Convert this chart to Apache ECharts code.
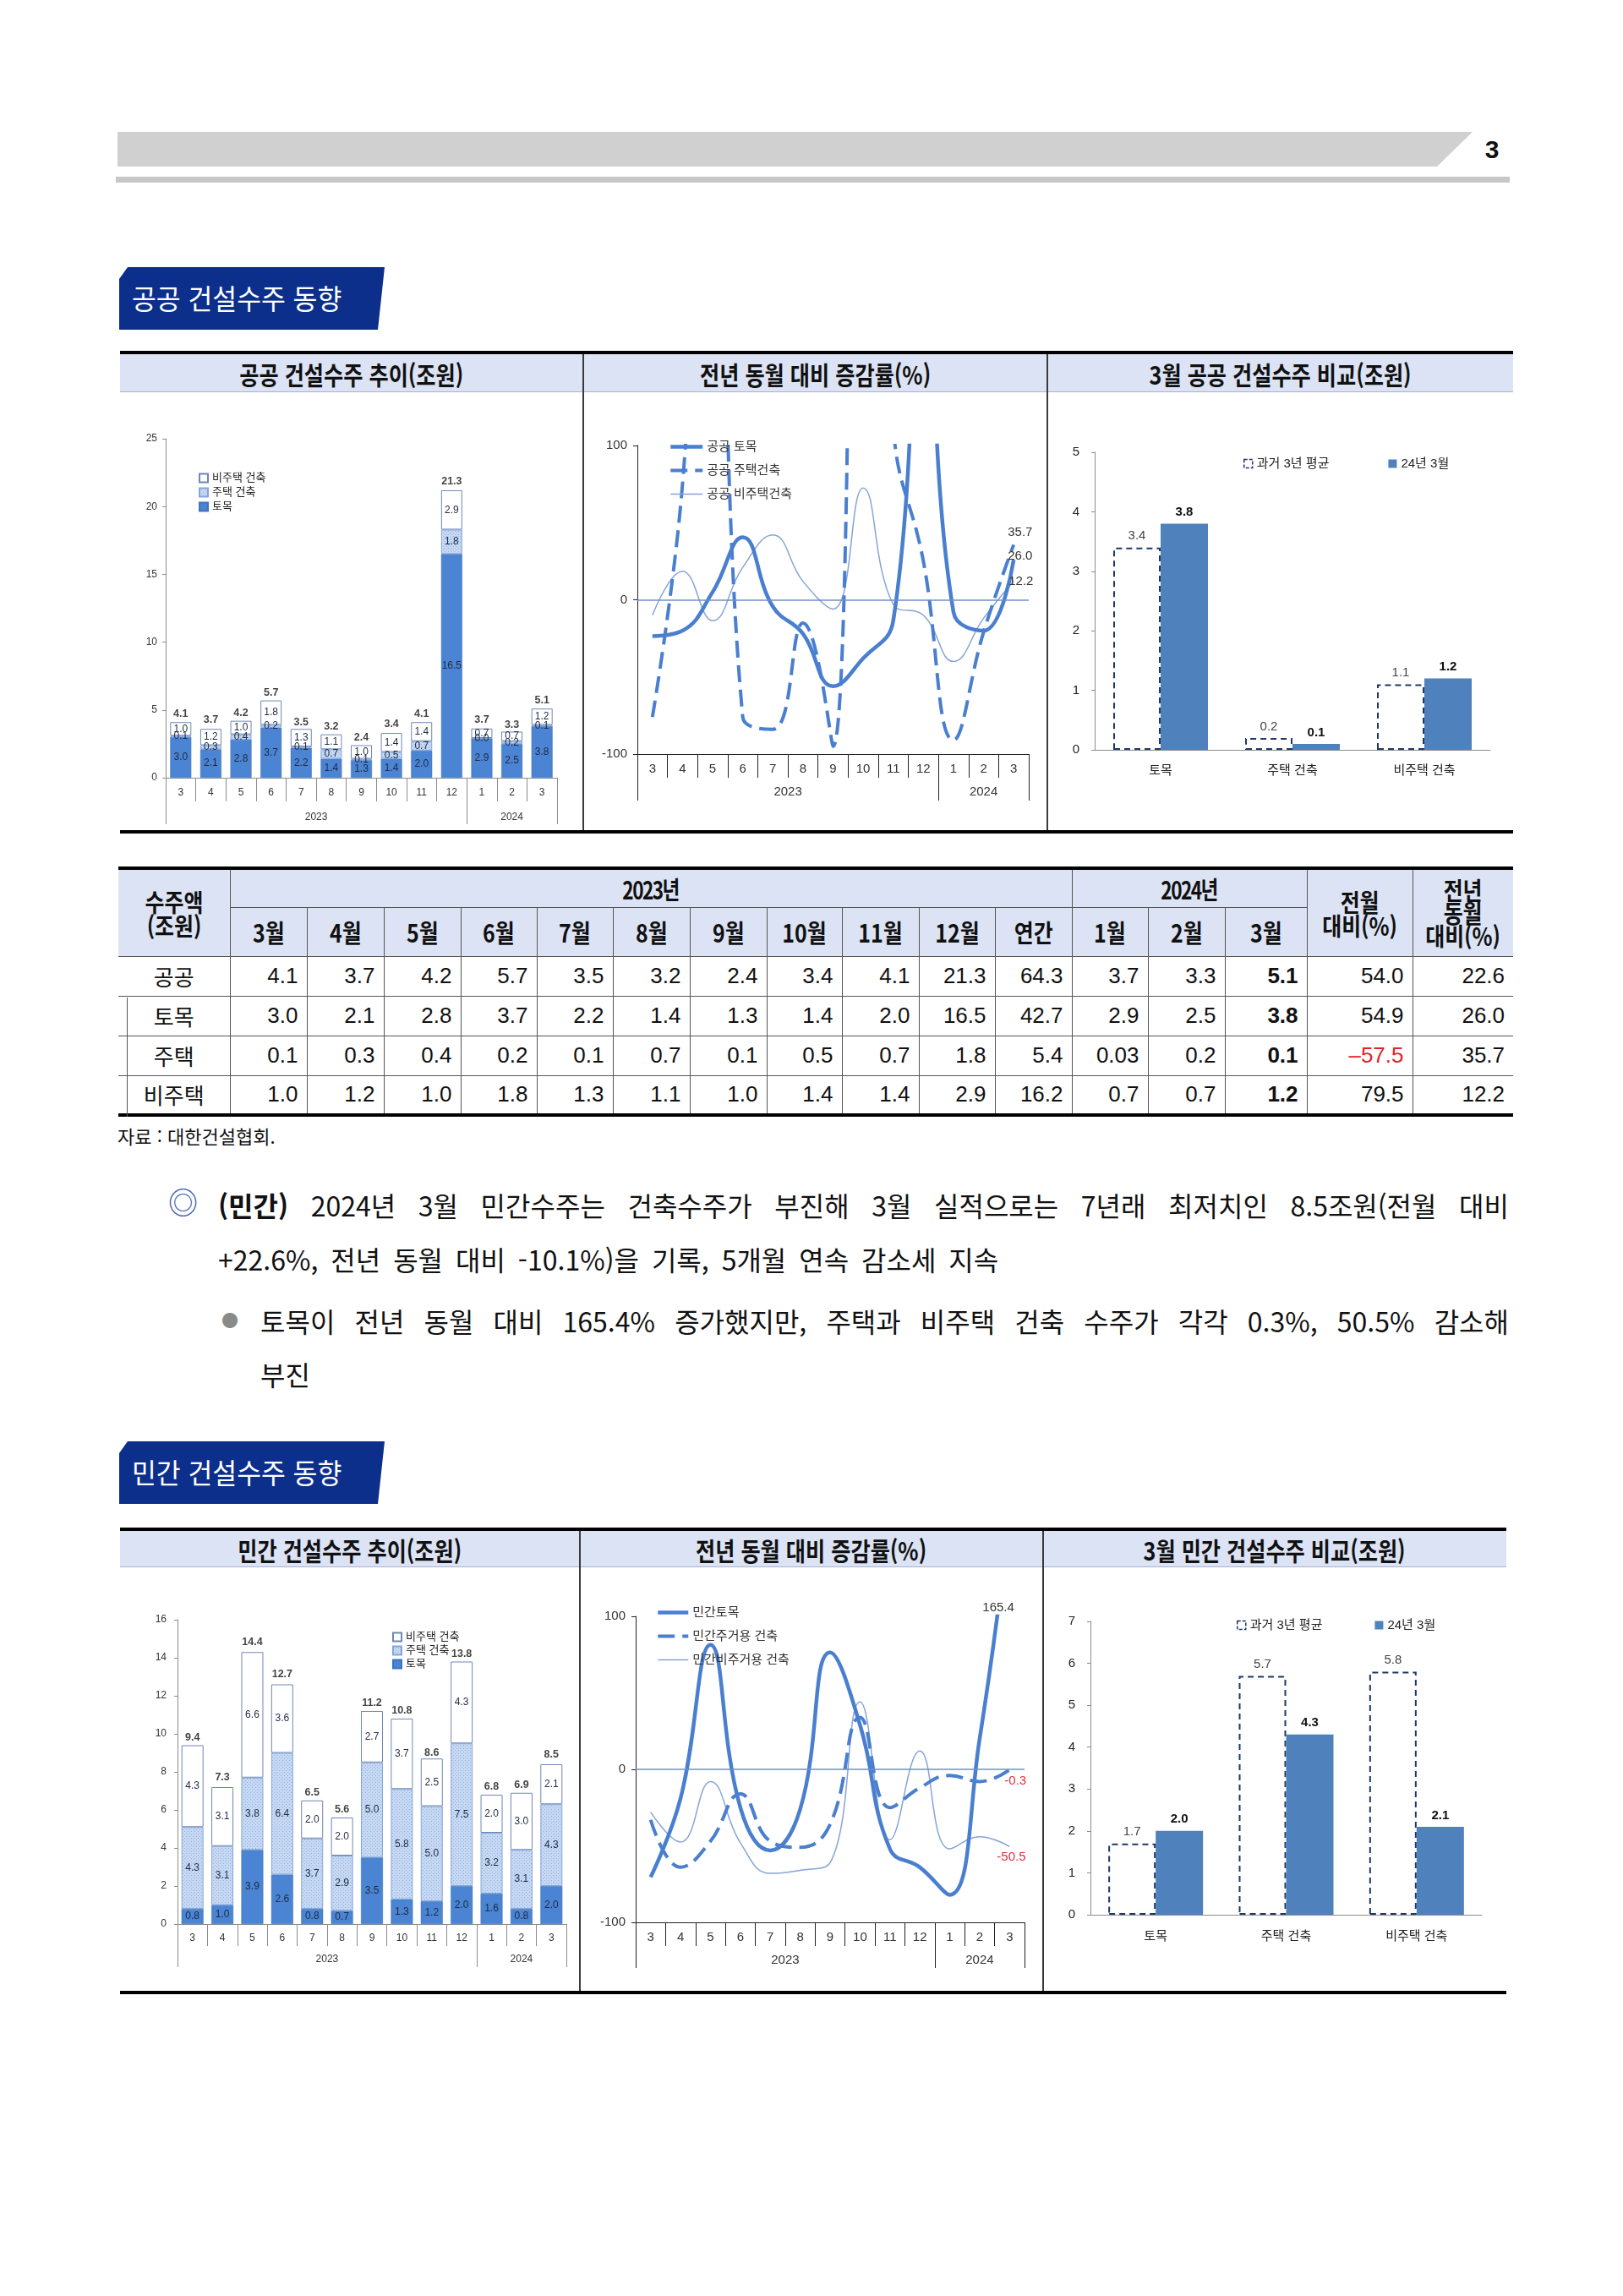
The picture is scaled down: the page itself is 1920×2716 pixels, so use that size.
<!DOCTYPE html>
<html lang="ko">
<head>
<meta charset="utf-8">
<title>공공·민간 건설수주 동향</title>
<script src="https://cdn.jsdelivr.net/npm/echarts@6.0.0/dist/echarts.min.js"></script>
<style>
  html, body { margin:0; padding:0; background:#fff; }
  body { position:relative; width:1920px; height:2716px; overflow:hidden;
         font-family:"Noto Sans CJK KR","Noto Sans",sans-serif; color:#111; }
  .abs { position:absolute; }
  .topbar { left:139px; top:156px; width:1603px; height:41px; background:#d0d0d0;
            clip-path:polygon(0 0,100% 0,calc(100% - 42px) 100%,0 100%); }
  .topline { left:137px; top:209px; width:1649px; height:7px; background:#c7c7c7; }
  .pageno { left:1748px; top:160px; width:34px; text-align:center; font-weight:bold; font-size:30px; line-height:34px;
            font-family:"Liberation Sans Narrow","Liberation Sans",sans-serif; color:#111; }
  .sect { left:141px; width:314px; height:74px; background:#0c2f8b; color:#fff;
          clip-path:polygon(10px 0,100% 0,calc(100% - 8px) 100%,0 100%,0 14px); }
  .sect span { position:absolute; left:15px; top:0; line-height:72px; font-size:33px; display:inline-block;
               transform:scaleX(0.95); transform-origin:left center; white-space:nowrap; }
  .ptop { height:4px; background:#000; }
  .phead { background:#dce3f4; border-bottom:1px solid #a9b3cf; box-sizing:border-box; }
  .ptitle { display:flex; align-items:center; justify-content:center; }
  .ptitle span { display:inline-block; font-size:30px; font-weight:bold; transform:scaleX(0.84); white-space:nowrap; }
  .vsep { width:2px; background:#3a3a3a; }
  .chart { position:absolute; }
  table.tb { position:absolute; left:140px; top:1025px; width:1650px; border-collapse:collapse; table-layout:fixed;
             border-top:4px solid #000; border-bottom:4px solid #000; }
  table.tb th, table.tb td { border:1px solid #555; padding:0; overflow:hidden; white-space:nowrap; }
  table.tb .c0 { border-left:none; }
  table.tb .cl { border-right:none; }
  table.tb th { background:#dce3f4; font-weight:bold; font-size:29px; line-height:28px; text-align:center; }
  table.tb th span { display:inline-block; transform:scaleX(0.86); }
  table.tb th span.yr { transform:scaleX(0.78); letter-spacing:-2px; }
  table.tb td { font-family:"Liberation Sans","Noto Sans CJK KR",sans-serif; font-size:26px; text-align:right; padding-right:10px; }
  table.tb td.rl { text-align:center; padding-right:0; font-family:"Noto Sans CJK KR",sans-serif; }
  table.tb td.bd { font-weight:bold; }
  table.tb td.neg { color:#e3222b; }
  .src { left:139px; top:1330px; font-size:22px; line-height:26px; color:#111; }
  .para { font-size:32px; line-height:40px; color:#111; word-spacing:6px; }
</style>
</head>
<body>

<!-- page header -->
<div class="abs topbar"></div>
<div class="abs topline"></div>
<div class="abs pageno">3</div>

<!-- section 1 -->
<div class="abs sect" style="top:316px;"><span>공공 건설수주 동향</span></div>

<div class="abs ptop" style="left:142px;top:415px;width:1648px;"></div>
<div class="abs phead" style="left:142px;top:419px;width:1648px;height:45px;"></div>
<div class="abs ptitle" style="left:142px;top:419px;width:548px;height:45px;"><span>공공 건설수주 추이(조원)</span></div>
<div class="abs ptitle" style="left:690px;top:419px;width:549px;height:45px;"><span>전년 동월 대비 증감률(%)</span></div>
<div class="abs ptitle" style="left:1239px;top:419px;width:551px;height:45px;"><span>3월 공공 건설수주 비교(조원)</span></div>
<div class="abs vsep" style="left:689px;top:419px;height:564px;"></div>
<div class="abs vsep" style="left:1238px;top:419px;height:564px;"></div>
<div class="abs ptop" style="left:142px;top:982px;width:1648px;"></div>

<div id="c1" class="chart" style="left:142px;top:464px;width:546px;height:518px;"></div>
<div id="c2" class="chart" style="left:691px;top:464px;width:547px;height:518px;"></div>
<div id="c3" class="chart" style="left:1240px;top:464px;width:550px;height:518px;"></div>

<!-- table -->
<table class="tb" id="tbl"></table>
<div class="abs" style="left:150px;top:1180px;width:1px;height:141px;background:#555;"></div>
<div class="abs src">자료 : 대한건설협회.</div>

<!-- paragraph -->
<div class="abs" style="left:199px;top:1401px;font-size:35px;line-height:40px;color:#3a5cab;">◎</div>
<div class="abs para" style="left:258px;top:1405px;width:1527px;text-align:justify;text-align-last:justify;"><b>(민간)</b> 2024년 3월 민간수주는 건축수주가 부진해 3월 실적으로는 7년래 최저치인 8.5조원(전월 대비</div>
<div class="abs para" style="left:258px;top:1469px;">+22.6%, 전년 동월 대비 -10.1%)을 기록, 5개월 연속 감소세 지속</div>
<div class="abs" style="left:262px;top:1542px;font-size:20px;line-height:40px;color:#8a8a8a;">●</div>
<div class="abs para" style="left:308px;top:1542px;width:1477px;text-align:justify;text-align-last:justify;">토목이 전년 동월 대비 165.4% 증가했지만, 주택과 비주택 건축 수주가 각각 0.3%, 50.5% 감소해</div>
<div class="abs para" style="left:308px;top:1605px;">부진</div>

<!-- section 2 -->
<div class="abs sect" style="top:1705px;"><span>민간 건설수주 동향</span></div>

<div class="abs ptop" style="left:142px;top:1807px;width:1640px;"></div>
<div class="abs phead" style="left:142px;top:1811px;width:1640px;height:43px;"></div>
<div class="abs ptitle" style="left:142px;top:1811px;width:544px;height:43px;"><span>민간 건설수주 추이(조원)</span></div>
<div class="abs ptitle" style="left:686px;top:1811px;width:548px;height:43px;"><span>전년 동월 대비 증감률(%)</span></div>
<div class="abs ptitle" style="left:1234px;top:1811px;width:548px;height:43px;"><span>3월 민간 건설수주 비교(조원)</span></div>
<div class="abs vsep" style="left:685px;top:1811px;height:545px;"></div>
<div class="abs vsep" style="left:1233px;top:1811px;height:545px;"></div>
<div class="abs ptop" style="left:142px;top:2355px;width:1640px;"></div>

<div id="c4" class="chart" style="left:142px;top:1854px;width:543px;height:501px;"></div>
<div id="c5" class="chart" style="left:687px;top:1854px;width:546px;height:501px;"></div>
<div id="c6" class="chart" style="left:1235px;top:1854px;width:547px;height:501px;"></div>

<script>
// ---------------- DATA ----------------
const months = ['3','4','5','6','7','8','9','10','11','12','1','2','3'];
const years = ['2023','2024'];
const yearSpans = [10, 3];

// 공공 건설수주 추이 (조원)
const pubCivil      = [3.0, 2.1, 2.8, 3.7, 2.2, 1.4, 1.3, 1.4, 2.0, 16.5, 2.9, 2.5, 3.8];
const pubHousing    = [0.1, 0.3, 0.4, 0.2, 0.1, 0.7, 0.1, 0.5, 0.7, 1.8, 0.03, 0.2, 0.1];
const pubNonHousing = [1.0, 1.2, 1.0, 1.8, 1.3, 1.1, 1.0, 1.4, 1.4, 2.9, 0.7, 0.7, 1.2];
const pubTotal      = [4.1, 3.7, 4.2, 5.7, 3.5, 3.2, 2.4, 3.4, 4.1, 21.3, 3.7, 3.3, 5.1];

// 공공 전년 동월 대비 증감률 (%)
const pubCivilYoY      = [-23.6, -20, 5, 40.5, -4.4, -22, -56, -38, -13.5, 215, -8, -20, 26.0];
const pubHousingYoY    = [-76, 75, 400, -76, -84, -15, -95, 900, 115, 25, -91, -21, 35.7];
const pubNonHousingYoY = [-10, 18.5, -13.5, 21, 42, 12, -6, 72.5, -3, -10, -40, -12, 12.2];

// 3월 공공 건설수주 비교 (조원)
const cmpCats = ['토목', '주택 건축', '비주택 건축'];
const pubPastAvg = [3.4, 0.2, 1.1];
const pubMar24   = [3.8, 0.1, 1.2];

// 민간 건설수주 추이 (조원)
const privCivil      = [0.8, 1.0, 3.9, 2.6, 0.8, 0.7, 3.5, 1.3, 1.2, 2.0, 1.6, 0.8, 2.0];
const privHousing    = [4.3, 3.1, 3.8, 6.4, 3.7, 2.9, 5.0, 5.8, 5.0, 7.5, 3.2, 3.1, 4.3];
const privNonHousing = [4.3, 3.1, 6.6, 3.6, 2.0, 2.0, 2.7, 3.7, 2.5, 4.3, 2.0, 3.0, 2.1];
const privTotal      = [9.4, 7.3, 14.4, 12.7, 6.5, 5.6, 11.2, 10.8, 8.6, 13.8, 6.8, 6.9, 8.5];

// 민간 전년 동월 대비 증감률 (%)
const privCivilYoY      = [-70.5, -19, 81.4, -25, -53, -26, 76.4, 29, -52, -64, -82, 20, 165.4];
const privHousingYoY    = [-33, -64, -47, -16, -47, -51, -36, 34, -25, -12, -4, -8, -0.3];
const privNonHousingYoY = [-28, -47.5, -8, -48, -68, -66, -61, 44, -46, 12, -52, -44, -50.5];

// 3월 민간 건설수주 비교 (조원)
const privPastAvg = [1.7, 5.7, 5.8];
const privMar24   = [2.0, 4.3, 2.1];

// 표: 공공 건설수주
const tblYears   = ['2023년', '2024년'];
const tblMonths  = ['3월','4월','5월','6월','7월','8월','9월','10월','11월','12월','연간','1월','2월','3월'];
const tblRowNames = ['공공', '토목', '주택', '비주택'];
const tblPublic     = ['4.1','3.7','4.2','5.7','3.5','3.2','2.4','3.4','4.1','21.3','64.3','3.7','3.3','5.1','54.0','22.6'];
const tblCivil      = ['3.0','2.1','2.8','3.7','2.2','1.4','1.3','1.4','2.0','16.5','42.7','2.9','2.5','3.8','54.9','26.0'];
const tblHousing    = ['0.1','0.3','0.4','0.2','0.1','0.7','0.1','0.5','0.7','1.8','5.4','0.03','0.2','0.1','-57.5','35.7'];
const tblNonHousing = ['1.0','1.2','1.0','1.8','1.3','1.1','1.0','1.4','1.4','2.9','16.2','0.7','0.7','1.2','79.5','12.2'];

// ---------------- TABLE ----------------
(function buildTable() {
  const colW = [132,91,91,91,90,90,91,91,89,91,90,91,90,91,97,125,119];
  const rows = [tblPublic, tblCivil, tblHousing, tblNonHousing];
  const span2023 = tblMonths.length - yearSpans[1];
  let h = '<colgroup>' + colW.map(w => `<col style="width:${w}px">`).join('') + '</colgroup>';
  h += '<tr style="height:46px">' +
       '<th class="c0" rowspan="2"><span>수주액<br>(조원)</span></th>' +
       `<th colspan="${span2023}"><span class="yr">${tblYears[0]}</span></th>` +
       `<th colspan="${yearSpans[1]}"><span class="yr">${tblYears[1]}</span></th>` +
       '<th rowspan="2"><span>전월<br>대비(%)</span></th>' +
       '<th class="cl" rowspan="2" style="line-height:27px"><span>전년<br>동월<br>대비(%)</span></th></tr>';
  h += '<tr style="height:58px">' + tblMonths.map(m => `<th><span>${m}</span></th>`).join('') + '</tr>';
  rows.forEach((r, ri) => {
    h += `<tr style="height:47px"><td class="rl c0">${tblRowNames[ri]}</td>`;
    r.forEach((v, ci) => {
      const cls = [];
      if (ci === tblMonths.length - 1) cls.push('bd');
      if (ci >= tblMonths.length && v.startsWith('-')) cls.push('neg');
      if (ci === r.length - 1) cls.push('cl');
      h += `<td class="${cls.join(' ')}">${v.replace('-', '–')}</td>`;
    });
    h += '</tr>';
  });
  document.getElementById('tbl').innerHTML = h;
})();

// ---------------- CHARTS ----------------
const FONT = '"Liberation Sans","Noto Sans CJK KR","Noto Sans",sans-serif';
const CIVIL = '#4a84d2';
const LINEBLUE = '#4a7fd0';
const THINBLUE = '#86a4d6';

function dotPattern() {
  const c = document.createElement('canvas');
  c.width = 4; c.height = 4;
  const g = c.getContext('2d');
  g.fillStyle = '#c7d9f2'; g.fillRect(0, 0, 4, 4);
  g.fillStyle = '#8fb0e2'; g.fillRect(0, 0, 1, 1); g.fillRect(2, 2, 1, 1);
  return c;
}
const HOUSING_FILL = { image: dotPattern(), repeat: 'repeat' };

function monthYearXAxes(o) {
  const bounds = [0];
  let acc = 0;
  yearSpans.forEach(s => { acc += s; bounds.push(acc); });
  const centers = yearSpans.map((s, i) => bounds[i] + s / 2);
  return [
    { type: 'category', data: months, position: 'bottom',
      axisLine: { show: true, onZero: false, lineStyle: { color: o.axisColor, width: 1 } },
      axisTick: { show: true, alignWithLabel: false, interval: 0, length: o.sepLen, lineStyle: { color: o.axisColor } },
      axisLabel: { interval: 0, margin: o.monthMargin, fontSize: o.fontSize, color: o.labelColor, fontFamily: FONT },
      splitLine: { show: false } },
    { type: 'value', min: 0, max: acc, position: 'bottom', offset: 0,
      axisLine: { show: false, onZero: false }, splitLine: { show: false },
      axisTick: { show: true, customValues: bounds, length: o.yearSepLen, lineStyle: { color: o.axisColor } },
      axisLabel: { show: true, customValues: centers, margin: o.yearMargin, fontSize: o.fontSize, color: o.labelColor, fontFamily: FONT,
        formatter: v => { const i = centers.findIndex(c => Math.abs(c - v) < 1e-6); return i >= 0 ? years[i] : ''; } } }
  ];
}

function stackedOption(c) {
  const lbl = (size) => ({ show: true, position: 'inside', fontSize: size, color: '#1f2a44', fontFamily: FONT,
                           formatter: p => Number(p.value).toFixed(1) });
  return {
    animation: false,
    textStyle: { fontFamily: FONT },
    grid: Object.assign({ outerBoundsMode: 'none', containLabel: false }, c.grid),
    legend: { orient: 'vertical', left: c.legend.left, top: c.legend.top, itemWidth: 10, itemHeight: 10, itemGap: c.legend.gap,
              icon: 'rect',
              textStyle: { fontSize: 13, color: '#222', fontFamily: FONT },
              data: ['비주택 건축', '주택 건축', '토목'] },
    xAxis: monthYearXAxes(c.axes),
    yAxis: { type: 'value', min: 0, max: c.yMax, interval: c.yInt,
             axisLine: { show: true, lineStyle: { color: '#8c8c8c' } },
             axisTick: { show: true, length: 4, lineStyle: { color: '#8c8c8c' } },
             splitLine: { show: false },
             axisLabel: { fontSize: 12, color: '#333', margin: c.yMargin, fontFamily: FONT } },
    series: [
      { name: '토목', type: 'bar', stack: 's', xAxisIndex: 0, data: c.civil, barWidth: c.barWidth,
        itemStyle: { color: CIVIL, borderColor: '#3f74bf', borderWidth: 0.5 }, label: lbl(12) },
      { name: '주택 건축', type: 'bar', stack: 's', xAxisIndex: 0, data: c.housing, barWidth: c.barWidth,
        itemStyle: { color: HOUSING_FILL, borderColor: '#86a6da', borderWidth: 1 }, label: lbl(12) },
      { name: '비주택 건축', type: 'bar', stack: 's', xAxisIndex: 0, data: c.nonHousing, barWidth: c.barWidth,
        itemStyle: { color: '#ffffff', borderColor: '#6f87b5', borderWidth: 1 }, label: lbl(12) },
      { name: '합계', type: 'scatter', xAxisIndex: 0, data: c.total.map((v, i) => [i, v]), symbolSize: 0, silent: true,
        label: { show: true, position: 'top', distance: 3, fontSize: 12.5, fontWeight: 'bold', color: '#111', fontFamily: FONT,
                 formatter: p => Number(p.value[1]).toFixed(1) } }
    ]
  };
}

function yoySeries(name, data, kind, end) {
  const styles = {
    solid:  { width: 4.5, color: LINEBLUE, type: 'solid' },
    dashed: { width: 4, color: LINEBLUE, type: [20, 9] },
    thin:   { width: 1.5, color: THINBLUE, type: 'solid' }
  };
  const last = data[data.length - 1];
  return {
    name, type: 'line', xAxisIndex: 0, data, smooth: 0.45, symbol: 'none', clip: true,
    lineStyle: styles[kind], itemStyle: { color: styles[kind].color },
    markPoint: { symbol: 'circle', symbolSize: 0, silent: true, animation: false,
      data: [{ coord: [data.length - 1, Math.max(-100, Math.min(100, last))], value: last }],
      label: { show: true, position: 'right', distance: 0, offset: end.offset, color: end.color, fontSize: 15, fontFamily: FONT,
               formatter: p => Number(p.value).toFixed(1) } }
  };
}

function yoyOption(c) {
  const sThin = yoySeries(c.names[2], c.data[2], 'thin', c.ends[2]);
  sThin.markLine = { silent: true, symbol: 'none', animation: false, data: [{ yAxis: 0 }],
                     lineStyle: { color: '#6f91c9', width: 1.5, type: 'solid' }, label: { show: false } };
  return {
    animation: false,
    textStyle: { fontFamily: FONT },
    grid: Object.assign({ outerBoundsMode: 'none', containLabel: false }, c.grid),
    legend: { orient: 'vertical', left: c.legend.left, top: c.legend.top, itemWidth: c.legend.w, itemHeight: 14, itemGap: 13,
              itemStyle: { color: 'rgba(0,0,0,0)', borderColor: 'rgba(0,0,0,0)', borderWidth: 0, opacity: 0 },
              lineStyle: { width: 'inherit', type: 'inherit', color: 'inherit' },
              textStyle: { fontSize: 15, color: '#333', fontFamily: FONT }, data: c.names },
    xAxis: monthYearXAxes(c.axes),
    yAxis: { type: 'value', min: -100, max: 100, interval: 100,
             axisLine: { show: true, lineStyle: { color: '#222' } },
             axisTick: { show: true, length: 5, lineStyle: { color: '#222' } },
             splitLine: { show: false },
             axisLabel: { fontSize: 15, color: '#333', margin: 12, fontFamily: FONT } },
    series: [
      sThin,
      yoySeries(c.names[1], c.data[1], 'dashed', c.ends[1]),
      yoySeries(c.names[0], c.data[0], 'solid', c.ends[0])
    ]
  };
}

function compareOption(c) {
  const past = '과거 3년 평균', cur = '24년 3월';
  return {
    animation: false,
    textStyle: { fontFamily: FONT },
    grid: Object.assign({ outerBoundsMode: 'none', containLabel: false }, c.grid),
    legend: { left: c.legend.left, top: c.legend.top, itemWidth: 10, itemHeight: 10, itemGap: c.legend.gap, icon: 'rect',
              textStyle: { fontSize: 15, color: '#222', fontFamily: FONT },
              data: [{ name: past, itemStyle: { color: '#fff', borderColor: '#1f3864', borderWidth: 1.5, borderType: [4, 2] } },
                     { name: cur }] },
    xAxis: { type: 'category', data: cmpCats,
             axisLine: { show: true, lineStyle: { color: '#8c8c8c' } }, axisTick: { show: false },
             axisLabel: { fontSize: 15, color: '#222', margin: c.xMargin, fontFamily: FONT } },
    yAxis: { type: 'value', min: 0, max: c.yMax, interval: 1,
             axisLine: { show: true, lineStyle: { color: '#8c8c8c' } },
             axisTick: { show: true, length: 4, lineStyle: { color: '#8c8c8c' } },
             splitLine: { show: false },
             axisLabel: { fontSize: 15, color: '#222', margin: 18, fontFamily: FONT } },
    series: [
      { name: past, type: 'bar', data: c.past, barWidth: 56, barGap: '0%',
        itemStyle: { color: '#ffffff', borderColor: '#1f3864', borderWidth: 2, borderType: [7, 5] },
        label: { show: true, position: 'top', distance: 6, fontSize: 15, color: '#444', fontFamily: FONT,
                 formatter: p => Number(p.value).toFixed(1) } },
      { name: cur, type: 'bar', data: c.cur, barWidth: 56, barGap: '0%',
        itemStyle: { color: '#4f81bd' },
        label: { show: true, position: 'top', distance: 6, fontSize: 15, fontWeight: 'bold', color: '#111', fontFamily: FONT,
                 formatter: p => Number(p.value).toFixed(1) } }
    ]
  };
}

function mk(id, opt) {
  const el = document.getElementById(id);
  const ch = echarts.init(el, null, { renderer: 'canvas' });
  ch.setOption(opt);
}

mk('c1', stackedOption({
  grid: { left: 54, right: 29, top: 55, bottom: 62 },
  legend: { left: 88, top: 90, gap: 4 },
  axes: { axisColor: '#8c8c8c', labelColor: '#333', fontSize: 12, monthMargin: 12, sepLen: 28, yearMargin: 41, yearSepLen: 55 },
  yMax: 25, yInt: 5, yMargin: 10, barWidth: 25,
  civil: pubCivil, housing: pubHousing, nonHousing: pubNonHousing, total: pubTotal
}));

mk('c2', yoyOption({
  grid: { left: 63, right: 21, top: 63, bottom: 90 },
  legend: { left: 95, top: 52, w: 38 },
  axes: { axisColor: '#222', labelColor: '#333', fontSize: 15, monthMargin: 10, sepLen: 28, yearMargin: 37, yearSepLen: 55 },
  names: ['공공 토목', '공공 주택건축', '공공 비주택건축'],
  data: [pubCivilYoY, pubHousingYoY, pubNonHousingYoY],
  ends: [{ offset: [-7, -4], color: '#333' }, { offset: [-7, -14], color: '#333' }, { offset: [-6, 1], color: '#333' }]
}));

mk('c3', compareOption({
  grid: { left: 55, right: 27, top: 71, bottom: 95 },
  legend: { left: 226, top: 72, gap: 70 },
  xMargin: 17, yMax: 5, past: pubPastAvg, cur: pubMar24
}));

mk('c4', stackedOption({
  grid: { left: 68, right: 15, top: 62, bottom: 79 },
  legend: { left: 317, top: 71, gap: 3 },
  axes: { axisColor: '#8c8c8c', labelColor: '#333', fontSize: 12, monthMargin: 11, sepLen: 26, yearMargin: 36, yearSepLen: 51 },
  yMax: 16, yInt: 2, yMargin: 13, barWidth: 26,
  civil: privCivil, housing: privHousing, nonHousing: privNonHousing, total: privTotal
}));

mk('c5', yoyOption({
  grid: { left: 65, right: 21, top: 58, bottom: 81 },
  legend: { left: 84, top: 41, w: 36 },
  axes: { axisColor: '#222', labelColor: '#333', fontSize: 15, monthMargin: 10, sepLen: 28, yearMargin: 37, yearSepLen: 54 },
  names: ['민간토목', '민간주거용 건축', '민간비주거용 건축'],
  data: [privCivilYoY, privHousingYoY, privNonHousingYoY],
  ends: [{ offset: [-32, -10], color: '#333' }, { offset: [-6, 13], color: '#e0303a' }, { offset: [-15, 12], color: '#e0303a' }]
}));

mk('c6', compareOption({
  grid: { left: 55, right: 29, top: 64, bottom: 90 },
  legend: { left: 223, top: 56, gap: 62 },
  xMargin: 18, yMax: 7, past: privPastAvg, cur: privMar24
}));
</script>
</body>
</html>
